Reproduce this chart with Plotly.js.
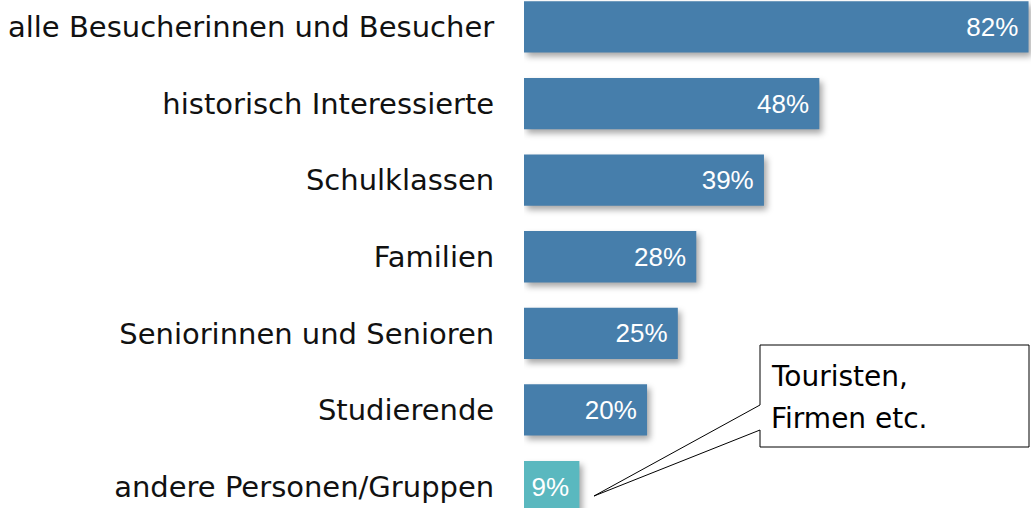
<!DOCTYPE html>
<html>
<head>
<meta charset="utf-8">
<script src="https://cdn.plot.ly/plotly-3.0.1.min.js"></script>
<style>
html,body{margin:0;padding:0;background:#fff;}
#chart{width:1031px;height:508px;}
</style>
</head>
<body>
<div id="chart"></div>
<script>
const categories = [
  "alle Besucherinnen und Besucher",
  "historisch Interessierte",
  "Schulklassen",
  "Familien",
  "Seniorinnen und Senioren",
  "Studierende",
  "andere Personen/Gruppen"
];
const values = [82, 48, 39, 28, 25, 20, 9];
const valueLabels = values.map(v => v + "%\u00A0");
const barColors = ["#467EAB","#467EAB","#467EAB","#467EAB","#467EAB","#467EAB","#5AB8BF"];
const calloutLines = ["Touristen,", "Firmen etc."];

const W = 1031, H = 508, L = 524;
const px = x => (x - L) / (W - L);
const py = y => 1 - y / H;
const labelFont = "DejaVu Sans, sans-serif";

const trace = {
  type: "bar",
  orientation: "h",
  y: categories,
  x: values,
  text: valueLabels,
  textposition: "inside",
  insidetextanchor: "end",
  textfont: {family: "Liberation Sans, Arial, sans-serif", size: 26, color: "#ffffff"},
  marker: {color: barColors, line: {width: 0}},
  width: 0.67,
  hoverinfo: "skip",
  cliponaxis: false
};

const path = "M " + px(760) + "," + py(345) +
  " L " + px(1029) + "," + py(345) +
  " L " + px(1029) + "," + py(447) +
  " L " + px(760) + "," + py(447) +
  " L " + px(760) + "," + py(430) +
  " L " + px(594) + "," + py(496) +
  " L " + px(760) + "," + py(405) + " Z";

const layout = {
  width: W, height: H,
  margin: {l: L, r: 0, t: 0, b: 0, pad: 0},
  paper_bgcolor: "#ffffff",
  plot_bgcolor: "#ffffff",
  showlegend: false,
  xaxis: {range: [0, 82.4], visible: false, fixedrange: true},
  yaxis: {
    type: "category",
    categoryorder: "array",
    categoryarray: categories,
    range: [6.28, -0.352],
    showgrid: false, zeroline: false, showline: false,
    ticks: "outside", ticklen: 23, tickcolor: "rgba(0,0,0,0)",
    tickfont: {family: labelFont, size: 29, color: "#111111"},
    fixedrange: true
  },
  shapes: [{
    type: "path", xref: "paper", yref: "paper", path: path,
    fillcolor: "#ffffff", line: {color: "#000000", width: 1}, layer: "above"
  }],
  annotations: [
    {xref: "paper", yref: "paper", x: px(769), y: py(376), xanchor: "left", yanchor: "middle",
     text: calloutLines[0], showarrow: false,
     font: {family: labelFont, size: 28, color: "#000000"}},
    {xref: "paper", yref: "paper", x: px(769), y: py(418), xanchor: "left", yanchor: "middle",
     text: calloutLines[1], showarrow: false,
     font: {family: labelFont, size: 28, color: "#000000"}}
  ]
};

Plotly.newPlot("chart", [trace], layout, {staticPlot: true, displayModeBar: false}).then(() => {
  document.querySelectorAll(".trace.bars .point path").forEach(p => {
    p.style.filter = "drop-shadow(3px 4px 3px rgba(0,0,0,0.35))";
  });
});
</script>
</body>
</html>
